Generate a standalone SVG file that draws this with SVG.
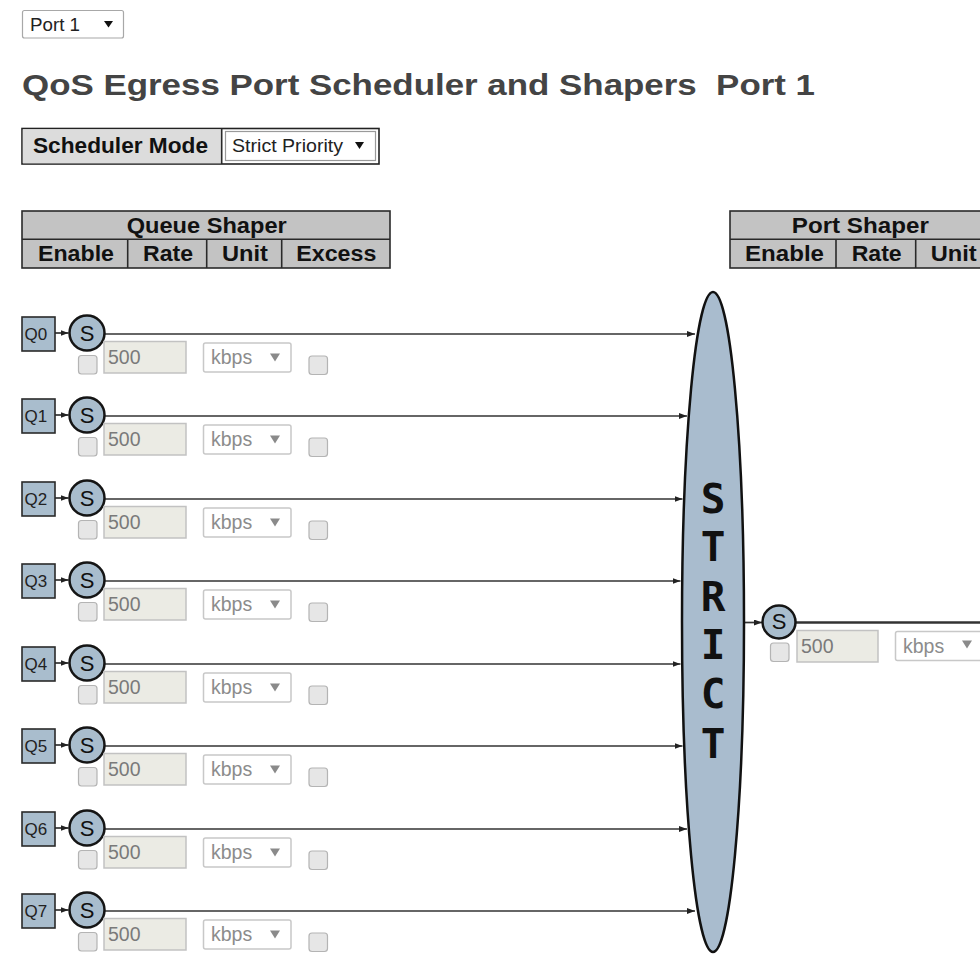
<svg xmlns="http://www.w3.org/2000/svg" width="980" height="959" viewBox="0 0 980 959">
  <style>
    .ui { font-family: "Liberation Sans", Arial, sans-serif; }
    .hdr { font-family: "Liberation Sans", Arial, sans-serif; font-weight: bold; font-size: 22px; fill: #111; text-anchor: middle; }
    .tbl { fill: #c3c3c3; stroke: #2a2a2a; stroke-width: 1.6; }
    .rule { stroke: #2a2a2a; stroke-width: 1.6; }
    .qbox { fill: #a9bdcd; stroke: #2a2a2a; stroke-width: 1.6; }
    .qlbl { font-family: "Liberation Sans", Arial, sans-serif; font-size: 17px; fill: #222; }
    .sc { fill: #a9bdcd; stroke: #151515; stroke-width: 2.5; }
    .slbl { font-family: "Liberation Sans", Arial, sans-serif; font-size: 22px; fill: #111; text-anchor: middle; }
    .cb { fill: #e6e6e6; stroke: #b4b4b4; stroke-width: 1.2; }
    .inp { fill: #ebebe4; stroke: #c2c2c2; stroke-width: 1.5; }
    .sel { fill: #fff; stroke: #c8c8c8; stroke-width: 1.5; }
    .val { font-family: "Liberation Sans", Arial, sans-serif; font-size: 19.5px; fill: #7a7a7a; }
    .unit { font-family: "Liberation Sans", Arial, sans-serif; font-size: 19.5px; fill: #8c8c8c; }
    .dd { fill: #8a8a8a; }
    .conn { stroke: #333; stroke-width: 1.7; fill: none; marker-end: url(#ah); }
    .strict { font-family: "DejaVu Sans Mono", monospace; font-weight: bold; font-size: 41px; fill: #111; text-anchor: middle; }
  </style>
  <defs>
    <marker id="ah" markerUnits="userSpaceOnUse" markerWidth="9" markerHeight="7" refX="8" refY="3" orient="auto">
      <path d="M0,0 L8,3 L0,6 z" fill="#222"/>
    </marker>
  </defs>

  <rect width="980" height="959" fill="#fff"/>

  <!-- port selector -->
  <g id="port-select">
    <rect x="22.5" y="10.5" width="101" height="27.5" rx="2" fill="#fff" stroke="#a8a8a8" stroke-width="1.2"/>
    <text class="ui" x="30" y="31" font-size="19" fill="#222" textLength="50" lengthAdjust="spacingAndGlyphs">Port 1</text>
    <polygon points="104,21 113,21 108.5,27.5" fill="#111"/>
  </g>

  <!-- page title -->
  <text id="title" class="ui" x="22" y="94.5" font-size="30" font-weight="bold" fill="#444" textLength="793" lengthAdjust="spacingAndGlyphs">QoS Egress Port Scheduler and Shapers&#160; Port 1</text>

  <!-- scheduler mode row -->
  <g id="scheduler-mode">
    <rect x="22" y="128.5" width="357" height="35.5" fill="#fff" stroke="#222" stroke-width="1.6"/>
    <rect x="22.8" y="129.3" width="198.5" height="34" fill="#dcdcdc"/>
    <line class="rule" x1="221.7" y1="128.5" x2="221.7" y2="164"/>
    <text class="ui" x="33" y="153" font-size="22" font-weight="bold" fill="#111" textLength="175" lengthAdjust="spacingAndGlyphs">Scheduler Mode</text>
    <rect x="225.5" y="131.5" width="150" height="29" fill="#fff" stroke="#9a9a9a" stroke-width="1.2"/>
    <text class="ui" x="232" y="152" font-size="19" fill="#222" textLength="111" lengthAdjust="spacingAndGlyphs">Strict Priority</text>
    <polygon points="355,142 364,142 359.5,149" fill="#111"/>
  </g>

  <!-- queue shaper header -->
  <g id="queue-shaper-header">
    <rect class="tbl" x="22" y="211" width="368" height="57"/>
    <line class="rule" x1="22" y1="239.3" x2="390" y2="239.3"/>
    <line class="rule" x1="127.7" y1="239.3" x2="127.7" y2="268"/>
    <line class="rule" x1="206.7" y1="239.3" x2="206.7" y2="268"/>
    <line class="rule" x1="281.7" y1="239.3" x2="281.7" y2="268"/>
    <text class="hdr" x="206.7" y="233" textLength="160" lengthAdjust="spacingAndGlyphs">Queue Shaper</text>
    <text class="hdr" x="76" y="260.5" textLength="76" lengthAdjust="spacingAndGlyphs">Enable</text>
    <text class="hdr" x="168" y="260.5" textLength="50" lengthAdjust="spacingAndGlyphs">Rate</text>
    <text class="hdr" x="245" y="260.5" textLength="46" lengthAdjust="spacingAndGlyphs">Unit</text>
    <text class="hdr" x="336.3" y="260.5" textLength="80" lengthAdjust="spacingAndGlyphs">Excess</text>
  </g>

  <!-- port shaper header -->
  <g id="port-shaper-header">
    <rect class="tbl" x="730" y="211" width="270" height="57"/>
    <line class="rule" x1="730" y1="239.3" x2="1000" y2="239.3"/>
    <line class="rule" x1="836" y1="239.3" x2="836" y2="268"/>
    <line class="rule" x1="915.7" y1="239.3" x2="915.7" y2="268"/>
    <text class="hdr" x="860.3" y="233" textLength="137" lengthAdjust="spacingAndGlyphs">Port Shaper</text>
    <text class="hdr" x="784.5" y="260.5" textLength="79" lengthAdjust="spacingAndGlyphs">Enable</text>
    <text class="hdr" x="876.7" y="260.5" textLength="50" lengthAdjust="spacingAndGlyphs">Rate</text>
    <text class="hdr" x="953.7" y="260.5" textLength="46" lengthAdjust="spacingAndGlyphs">Unit</text>
  </g>

  <!-- connectors -->
  <g id="connectors">
    <line class="conn" x1="55" y1="333" x2="68.5" y2="333"/>
    <line class="conn" x1="55" y1="415" x2="68.5" y2="415"/>
    <line class="conn" x1="55" y1="498" x2="68.5" y2="498"/>
    <line class="conn" x1="55" y1="580" x2="68.5" y2="580"/>
    <line class="conn" x1="55" y1="663" x2="68.5" y2="663"/>
    <line class="conn" x1="55" y1="745" x2="68.5" y2="745"/>
    <line class="conn" x1="55" y1="828" x2="68.5" y2="828"/>
    <line class="conn" x1="55" y1="910" x2="68.5" y2="910"/>

    <line class="conn" x1="105" y1="334" x2="695" y2="334"/>
    <line class="conn" x1="105" y1="416" x2="687" y2="416"/>
    <line class="conn" x1="105" y1="499" x2="682.5" y2="499"/>
    <line class="conn" x1="105" y1="581" x2="680.5" y2="581"/>
    <line class="conn" x1="105" y1="664" x2="680.5" y2="664"/>
    <line class="conn" x1="105" y1="746" x2="682.5" y2="746"/>
    <line class="conn" x1="105" y1="829" x2="687" y2="829"/>
    <line class="conn" x1="105" y1="911" x2="695" y2="911"/>

    <line class="conn" x1="745" y1="622.5" x2="762" y2="622.5"/>
    <line x1="796" y1="622.5" x2="980" y2="622.5" stroke="#333" stroke-width="2.4"/>
  </g>

  <!-- strict priority scheduler -->
  <g id="strict">
    <ellipse cx="713" cy="622" rx="31" ry="330" fill="#a9bcce" stroke="#111" stroke-width="2.5"/>
    <text class="strict" x="713" y="513">S</text>
    <text class="strict" x="713" y="561">T</text>
    <text class="strict" x="713" y="611">R</text>
    <text class="strict" x="713" y="659">I</text>
    <text class="strict" x="713" y="708">C</text>
    <text class="strict" x="713" y="758">T</text>
  </g>

  <!-- queue rows -->
  <g id="q0" transform="translate(0,333)">
    <rect class="qbox" x="22" y="-16" width="33" height="34"/>
    <text class="qlbl" x="24.5" y="7">Q0</text>
    <circle class="sc" cx="87" cy="0" r="17.5"/>
    <text class="slbl" x="87" y="8">S</text>
    <rect class="cb" x="78.5" y="22.5" width="18.5" height="18.5" rx="3"/>
    <rect class="inp" x="104" y="8.5" width="82" height="31.5"/>
    <text class="val" x="108" y="31">500</text>
    <rect class="sel" x="203.5" y="10" width="87.5" height="29" rx="2"/>
    <text class="unit" x="211" y="31">kbps</text>
    <polygon class="dd" points="270,20.5 280,20.5 275,28.5"/>
    <rect class="cb" x="309" y="23" width="18.5" height="18.5" rx="3"/>
  </g>
  <g id="q1" transform="translate(0,415)">
    <rect class="qbox" x="22" y="-16" width="33" height="34"/>
    <text class="qlbl" x="24.5" y="7">Q1</text>
    <circle class="sc" cx="87" cy="0" r="17.5"/>
    <text class="slbl" x="87" y="8">S</text>
    <rect class="cb" x="78.5" y="22.5" width="18.5" height="18.5" rx="3"/>
    <rect class="inp" x="104" y="8.5" width="82" height="31.5"/>
    <text class="val" x="108" y="31">500</text>
    <rect class="sel" x="203.5" y="10" width="87.5" height="29" rx="2"/>
    <text class="unit" x="211" y="31">kbps</text>
    <polygon class="dd" points="270,20.5 280,20.5 275,28.5"/>
    <rect class="cb" x="309" y="23" width="18.5" height="18.5" rx="3"/>
  </g>
  <g id="q2" transform="translate(0,498)">
    <rect class="qbox" x="22" y="-16" width="33" height="34"/>
    <text class="qlbl" x="24.5" y="7">Q2</text>
    <circle class="sc" cx="87" cy="0" r="17.5"/>
    <text class="slbl" x="87" y="8">S</text>
    <rect class="cb" x="78.5" y="22.5" width="18.5" height="18.5" rx="3"/>
    <rect class="inp" x="104" y="8.5" width="82" height="31.5"/>
    <text class="val" x="108" y="31">500</text>
    <rect class="sel" x="203.5" y="10" width="87.5" height="29" rx="2"/>
    <text class="unit" x="211" y="31">kbps</text>
    <polygon class="dd" points="270,20.5 280,20.5 275,28.5"/>
    <rect class="cb" x="309" y="23" width="18.5" height="18.5" rx="3"/>
  </g>
  <g id="q3" transform="translate(0,580)">
    <rect class="qbox" x="22" y="-16" width="33" height="34"/>
    <text class="qlbl" x="24.5" y="7">Q3</text>
    <circle class="sc" cx="87" cy="0" r="17.5"/>
    <text class="slbl" x="87" y="8">S</text>
    <rect class="cb" x="78.5" y="22.5" width="18.5" height="18.5" rx="3"/>
    <rect class="inp" x="104" y="8.5" width="82" height="31.5"/>
    <text class="val" x="108" y="31">500</text>
    <rect class="sel" x="203.5" y="10" width="87.5" height="29" rx="2"/>
    <text class="unit" x="211" y="31">kbps</text>
    <polygon class="dd" points="270,20.5 280,20.5 275,28.5"/>
    <rect class="cb" x="309" y="23" width="18.5" height="18.5" rx="3"/>
  </g>
  <g id="q4" transform="translate(0,663)">
    <rect class="qbox" x="22" y="-16" width="33" height="34"/>
    <text class="qlbl" x="24.5" y="7">Q4</text>
    <circle class="sc" cx="87" cy="0" r="17.5"/>
    <text class="slbl" x="87" y="8">S</text>
    <rect class="cb" x="78.5" y="22.5" width="18.5" height="18.5" rx="3"/>
    <rect class="inp" x="104" y="8.5" width="82" height="31.5"/>
    <text class="val" x="108" y="31">500</text>
    <rect class="sel" x="203.5" y="10" width="87.5" height="29" rx="2"/>
    <text class="unit" x="211" y="31">kbps</text>
    <polygon class="dd" points="270,20.5 280,20.5 275,28.5"/>
    <rect class="cb" x="309" y="23" width="18.5" height="18.5" rx="3"/>
  </g>
  <g id="q5" transform="translate(0,745)">
    <rect class="qbox" x="22" y="-16" width="33" height="34"/>
    <text class="qlbl" x="24.5" y="7">Q5</text>
    <circle class="sc" cx="87" cy="0" r="17.5"/>
    <text class="slbl" x="87" y="8">S</text>
    <rect class="cb" x="78.5" y="22.5" width="18.5" height="18.5" rx="3"/>
    <rect class="inp" x="104" y="8.5" width="82" height="31.5"/>
    <text class="val" x="108" y="31">500</text>
    <rect class="sel" x="203.5" y="10" width="87.5" height="29" rx="2"/>
    <text class="unit" x="211" y="31">kbps</text>
    <polygon class="dd" points="270,20.5 280,20.5 275,28.5"/>
    <rect class="cb" x="309" y="23" width="18.5" height="18.5" rx="3"/>
  </g>
  <g id="q6" transform="translate(0,828)">
    <rect class="qbox" x="22" y="-16" width="33" height="34"/>
    <text class="qlbl" x="24.5" y="7">Q6</text>
    <circle class="sc" cx="87" cy="0" r="17.5"/>
    <text class="slbl" x="87" y="8">S</text>
    <rect class="cb" x="78.5" y="22.5" width="18.5" height="18.5" rx="3"/>
    <rect class="inp" x="104" y="8.5" width="82" height="31.5"/>
    <text class="val" x="108" y="31">500</text>
    <rect class="sel" x="203.5" y="10" width="87.5" height="29" rx="2"/>
    <text class="unit" x="211" y="31">kbps</text>
    <polygon class="dd" points="270,20.5 280,20.5 275,28.5"/>
    <rect class="cb" x="309" y="23" width="18.5" height="18.5" rx="3"/>
  </g>
  <g id="q7" transform="translate(0,910)">
    <rect class="qbox" x="22" y="-16" width="33" height="34"/>
    <text class="qlbl" x="24.5" y="7">Q7</text>
    <circle class="sc" cx="87" cy="0" r="17.5"/>
    <text class="slbl" x="87" y="8">S</text>
    <rect class="cb" x="78.5" y="22.5" width="18.5" height="18.5" rx="3"/>
    <rect class="inp" x="104" y="8.5" width="82" height="31.5"/>
    <text class="val" x="108" y="31">500</text>
    <rect class="sel" x="203.5" y="10" width="87.5" height="29" rx="2"/>
    <text class="unit" x="211" y="31">kbps</text>
    <polygon class="dd" points="270,20.5 280,20.5 275,28.5"/>
    <rect class="cb" x="309" y="23" width="18.5" height="18.5" rx="3"/>
  </g>

  <!-- port shaper row -->
  <g id="port-shaper" transform="translate(0,622)">
    <circle class="sc" cx="779" cy="0" r="16.5"/>
    <text class="slbl" x="779" y="6.5" font-size="18">S</text>
    <rect class="cb" x="770.5" y="21" width="18.5" height="18.5" rx="3"/>
    <rect class="inp" x="797" y="8.5" width="81" height="31.5"/>
    <text class="val" x="801" y="30.5">500</text>
    <rect class="sel" x="895.5" y="9.5" width="100" height="29" rx="2"/>
    <text class="unit" x="903" y="30.5">kbps</text>
    <polygon class="dd" points="962,18.5 972,18.5 967,26.5"/>
  </g>
</svg>
